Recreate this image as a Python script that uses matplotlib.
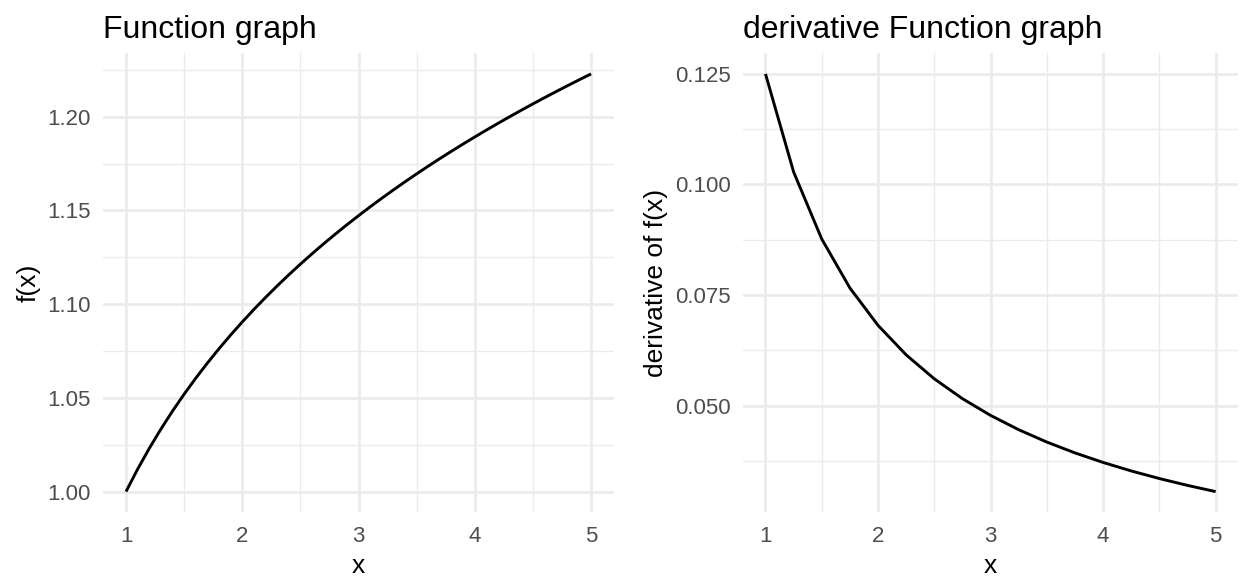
import numpy as np
import matplotlib
matplotlib.use("Agg")
import matplotlib.pyplot as plt
from matplotlib.ticker import FixedLocator, FormatStrFormatter

# f(x) sampled on a fine grid
x_fine = [1.0, 1.1, 1.2, 1.3, 1.4, 1.5, 1.6, 1.7, 1.8, 1.9,
          2.0, 2.1, 2.2, 2.3, 2.4, 2.5, 2.6, 2.7, 2.8, 2.9,
          3.0, 3.1, 3.2, 3.3, 3.4, 3.5, 3.6, 3.7, 3.8, 3.9,
          4.0, 4.1, 4.2, 4.3, 4.4, 4.5, 4.6, 4.7, 4.8, 4.9, 5.0]
fx = [1.00000, 1.01199, 1.02305, 1.03334, 1.04296, 1.05199, 1.06051, 1.06858, 1.07624, 1.08354,
      1.09051, 1.09718, 1.10358, 1.10973, 1.11565, 1.12136, 1.12687, 1.13220, 1.13736, 1.14236,
      1.14720, 1.15192, 1.15650, 1.16095, 1.16529, 1.16952, 1.17365, 1.17768, 1.18161, 1.18545,
      1.18921, 1.19288, 1.19648, 1.20001, 1.20346, 1.20685, 1.21017, 1.21342, 1.21662, 1.21976,
      1.22284]

# derivative sampled every 0.25
x = [1.00, 1.25, 1.50, 1.75, 2.00, 2.25, 2.50, 2.75, 3.00,
     3.25, 3.50, 3.75, 4.00, 4.25, 4.50, 4.75, 5.00]
dfx = [0.125000, 0.102829, 0.087666, 0.076604, 0.068157, 0.061482, 0.056068, 0.051581, 0.047800,
       0.044567, 0.041769, 0.039322, 0.037163, 0.035243, 0.033524, 0.031975, 0.030571]

x_major = [1, 2, 3, 4, 5]
x_minor = [1.5, 2.5, 3.5, 4.5]
f_major = [1.00, 1.05, 1.10, 1.15, 1.20]
f_minor = [1.025, 1.075, 1.125, 1.175, 1.225]
d_major = [0.050, 0.075, 0.100, 0.125]
d_minor = [0.0375, 0.0625, 0.0875, 0.1125]

plt.rcParams['font.family'] = ['Liberation Sans', 'DejaVu Sans']

GRID = '#EBEBEB'
TICK_COLOR = '#4D4D4D'


def style_axis(ax, xs, ys, yfmt, title, ylabel, ymaj, ymin):
    ax.plot(xs, ys, color='black', linewidth=2.1, solid_capstyle='butt')
    pad_x = (max(xs) - min(xs)) * 0.05
    pad_y = (max(ys) - min(ys)) * 0.05
    ax.set_xlim(min(xs) - pad_x, max(xs) + pad_x)
    ax.set_ylim(min(ys) - pad_y, max(ys) + pad_y)
    ax.xaxis.set_major_locator(FixedLocator(x_major))
    ax.xaxis.set_minor_locator(FixedLocator(x_minor))
    ax.yaxis.set_major_locator(FixedLocator(ymaj))
    ax.yaxis.set_minor_locator(FixedLocator(ymin))
    ax.yaxis.set_major_formatter(FormatStrFormatter(yfmt))
    ax.grid(which='major', color=GRID, linewidth=1.9)
    ax.grid(which='minor', color=GRID, linewidth=0.95)
    ax.set_axisbelow(True)
    for s in ax.spines.values():
        s.set_visible(False)
    ax.tick_params(which='both', length=0)
    ax.tick_params(axis='y', labelsize=16, labelcolor=TICK_COLOR, pad=8.5)
    ax.tick_params(axis='x', labelsize=16, labelcolor=TICK_COLOR, pad=9.5)
    ax.set_xlabel('x', fontsize=19, labelpad=5.5)
    ax.set_ylabel(ylabel, fontsize=19, labelpad=5)
    ax.set_title(title, loc='left', fontsize=23, pad=10.5)


fig = plt.figure(figsize=(12.41, 5.77), dpi=100)
ax1 = fig.add_axes([0.0828, 0.1118, 0.4122, 0.7963])
ax2 = fig.add_axes([0.5987, 0.1118, 0.3990, 0.7963])

style_axis(ax1, x_fine, fx, '%.2f', 'Function graph', 'f(x)', f_major, f_minor)
style_axis(ax2, x, dfx, '%.3f', 'derivative Function graph', 'derivative of f(x)', d_major, d_minor)

fig.savefig('out.png', dpi=100, facecolor='white')
